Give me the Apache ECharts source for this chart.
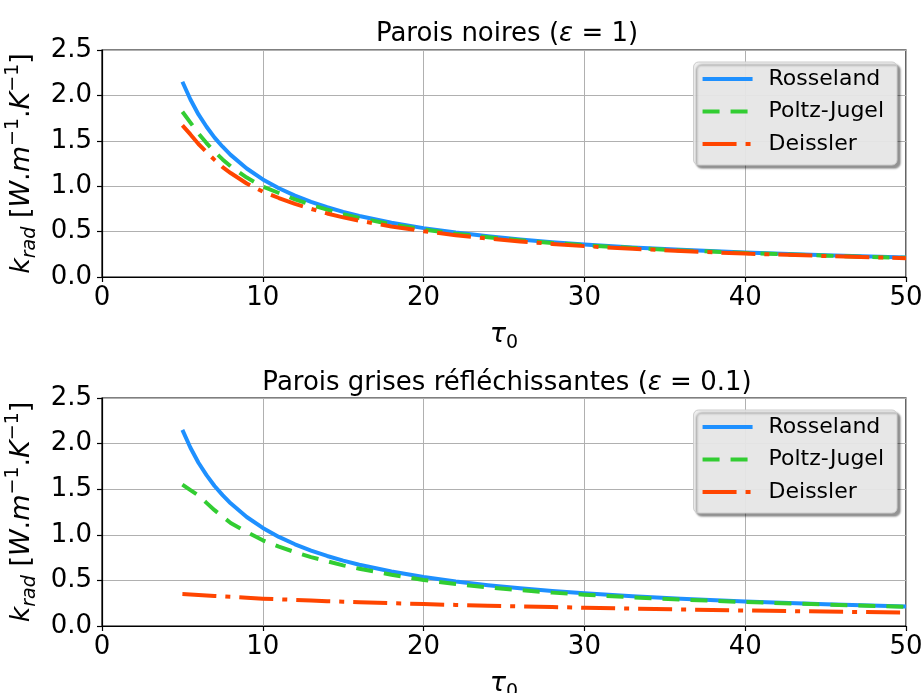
<!DOCTYPE html>
<html><head><meta charset="utf-8">
<script src="https://cdn.jsdelivr.net/npm/echarts@6/dist/echarts.min.js"></script>
<style>html,body{margin:0;padding:0;background:#fff}#c{width:924px;height:693px}</style>
</head><body><div id="c"></div>
<script>
const tau = [5, 5.5, 6, 6.5, 7, 7.5, 8, 9, 10, 11, 12, 13, 14, 15, 16, 18, 20, 22, 24, 26, 28, 30, 33, 36, 40, 45, 50];
const rosseland = [2.15, 1.955, 1.79, 1.655, 1.535, 1.435, 1.345, 1.195, 1.075, 0.977, 0.896, 0.827, 0.768, 0.717, 0.672, 0.597, 0.538, 0.489, 0.448, 0.413, 0.384, 0.358, 0.326, 0.299, 0.269, 0.239, 0.215];
const poltzBlack = [1.82, 1.70, 1.58, 1.475, 1.38, 1.295, 1.22, 1.095, 0.995, 0.925, 0.855, 0.795, 0.742, 0.693, 0.65, 0.58, 0.523, 0.476, 0.437, 0.404, 0.375, 0.35, 0.319, 0.293, 0.264, 0.235, 0.211];
const deisslerBlack = [1.67, 1.57, 1.465, 1.375, 1.29, 1.21, 1.145, 1.03, 0.94, 0.87, 0.805, 0.75, 0.70, 0.657, 0.62, 0.557, 0.505, 0.461, 0.424, 0.392, 0.364, 0.34, 0.311, 0.286, 0.258, 0.231, 0.207];
const poltzGrey = [1.55, 1.49, 1.43, 1.35, 1.27, 1.20, 1.13, 1.03, 0.94, 0.87, 0.81, 0.755, 0.71, 0.665, 0.628, 0.562, 0.505, 0.46, 0.424, 0.393, 0.366, 0.343, 0.314, 0.29, 0.263, 0.235, 0.21];
const deisslerGrey = [0.35, 0.345, 0.34, 0.335, 0.33, 0.325, 0.32, 0.31, 0.30, 0.293, 0.286, 0.279, 0.272, 0.266, 0.26, 0.25, 0.24, 0.231, 0.223, 0.215, 0.208, 0.20, 0.19, 0.181, 0.17, 0.158, 0.147];
const xTicks = [0, 10, 20, 30, 40, 50];
const yTicks = [0.0, 0.5, 1.0, 1.5, 2.0, 2.5];
const titles = ['Parois noires (', 'Parois grises réfléchissantes ('];
const epsVals = ['1', '0.1'];
const names = ['Rosseland', 'Poltz-Jugel', 'Deissler'];

const FONT = 'DejaVu Sans';
const pairs = ys => tau.map((t, i) => [t, ys[i]]);
const chart = echarts.init(document.getElementById('c'), null, {renderer: 'canvas'});

const gridsPos = [{top: 50, height: 227}, {top: 398, height: 228}];
const grids = gridsPos.map(g => ({left: 102, width: 804, top: g.top, height: g.height, show: true,
  borderColor: '#000', borderWidth: 1.2, backgroundColor: 'transparent',
  containLabel: false, outerBoundsMode: 'none'}));

const LH = 36;
const richBase = {
  n: {fontFamily: FONT, fontSize: 27, color: '#000', lineHeight: LH},
  i: {fontFamily: FONT, fontSize: 27, fontStyle: 'italic', color: '#000', lineHeight: LH},
  sub: {fontFamily: FONT, fontSize: 19, fontStyle: 'italic', color: '#000', verticalAlign: 'bottom', lineHeight: LH, padding: [12, 0, 0, 0]},
  subn: {fontFamily: FONT, fontSize: 19, color: '#000', verticalAlign: 'bottom', lineHeight: LH, padding: [12, 0, 0, 0]},
  sup: {fontFamily: FONT, fontSize: 19, color: '#000', verticalAlign: 'top', lineHeight: LH, padding: [0, 0, 12, 0]}
};

const xAxes = [0, 1].map(k => ({
  type: 'value', gridIndex: k, min: 0, max: 50, interval: 10,
  axisLine: {show: true, lineStyle: {color: '#000', width: 1.2}},
  axisTick: {show: true, length: 5, lineStyle: {color: '#000', width: 1.2}},
  axisLabel: {fontFamily: FONT, fontSize: 26, color: '#000', margin: 8,
    formatter: v => xTicks.includes(v) ? String(v) : ''},
  splitLine: {show: true, lineStyle: {color: '#b0b0b0', width: 1}},
  name: '{i|τ}{subn|0}', nameLocation: 'middle', nameGap: 40,
  nameTextStyle: {rich: richBase}
}));
const yAxes = [0, 1].map(k => ({
  type: 'value', gridIndex: k, min: 0, max: 2.5, interval: 0.5,
  axisLine: {show: true, lineStyle: {color: '#000', width: 1.2}},
  axisTick: {show: true, length: 5, lineStyle: {color: '#000', width: 1.2}},
  axisLabel: {fontFamily: FONT, fontSize: 26, color: '#000', margin: 10,
    formatter: v => yTicks.includes(+v.toFixed(1)) ? v.toFixed(1) : ''},
  splitLine: {show: true, lineStyle: {color: '#b0b0b0', width: 1}},
  name: '{i|k}{sub|rad}{n| [}{i|W}{n|.}{i|m}{sup|−1}{n|.}{i|K}{sup|−1}{n|]}',
  nameLocation: 'middle', nameRotate: 90, nameGap: 56,
  nameTextStyle: {rich: richBase}
}));

const styles = [
  {color: '#1E90FF', width: 4, type: 'solid'},
  {color: '#32CD32', width: 4, type: [17, 11]},
  {color: '#FF4500', width: 4, type: [34, 9, 5, 9]}
];
const dataSets = [[rosseland, poltzBlack, deisslerBlack], [rosseland, poltzGrey, deisslerGrey]];
const series = [];
dataSets.forEach((set, k) => set.forEach((ys, j) => series.push({
  type: 'line', name: names[j], xAxisIndex: k, yAxisIndex: k, data: pairs(ys),
  showSymbol: false, symbol: 'none', smooth: false,
  lineStyle: {color: styles[j].color, width: styles[j].width, type: styles[j].type, cap: 'butt', join: 'round'},
  itemStyle: {color: styles[j].color}, z: 3 + j, animation: false
})));

const legendTops = [62, 410];
const legends = legendTops.map(t => ({
  orient: 'vertical', right: 27, top: t, data: names,
  itemWidth: 50, itemHeight: 14, itemGap: 6.5,
  padding: [4, 13, 8, 7],
  itemStyle: {opacity: 0},
  lineStyle: {width: 4},
  backgroundColor: 'rgba(238,238,238,0.92)', borderColor: '#cccccc', borderWidth: 1, borderRadius: 5,
  shadowColor: 'rgba(0,0,0,0.45)', shadowBlur: 2, shadowOffsetX: 3, shadowOffsetY: 3,
  textStyle: {fontFamily: FONT, fontSize: 22, lineHeight: 26, color: '#000', padding: [0, 0, 0, 11]},
  selectedMode: false
}));

const titleTops = [16, 365];
const title = titleTops.map((t, k) => ({
  text: '{n|' + titles[k] + '}{i|ε}{n| = ' + epsVals[k] + ')}',
  left: 502, top: t, textAlign: 'center',
  textStyle: {rich: {
    n: {fontFamily: FONT, fontSize: 26, color: '#000', fontWeight: 'normal'},
    i: {fontFamily: FONT, fontSize: 26, color: '#000', fontStyle: 'italic', fontWeight: 'normal'}
  }}
}));

chart.setOption({
  animation: false, backgroundColor: '#fff',
  title, legend: legends, grid: grids, xAxis: xAxes, yAxis: yAxes, series
});
</script></body></html>
